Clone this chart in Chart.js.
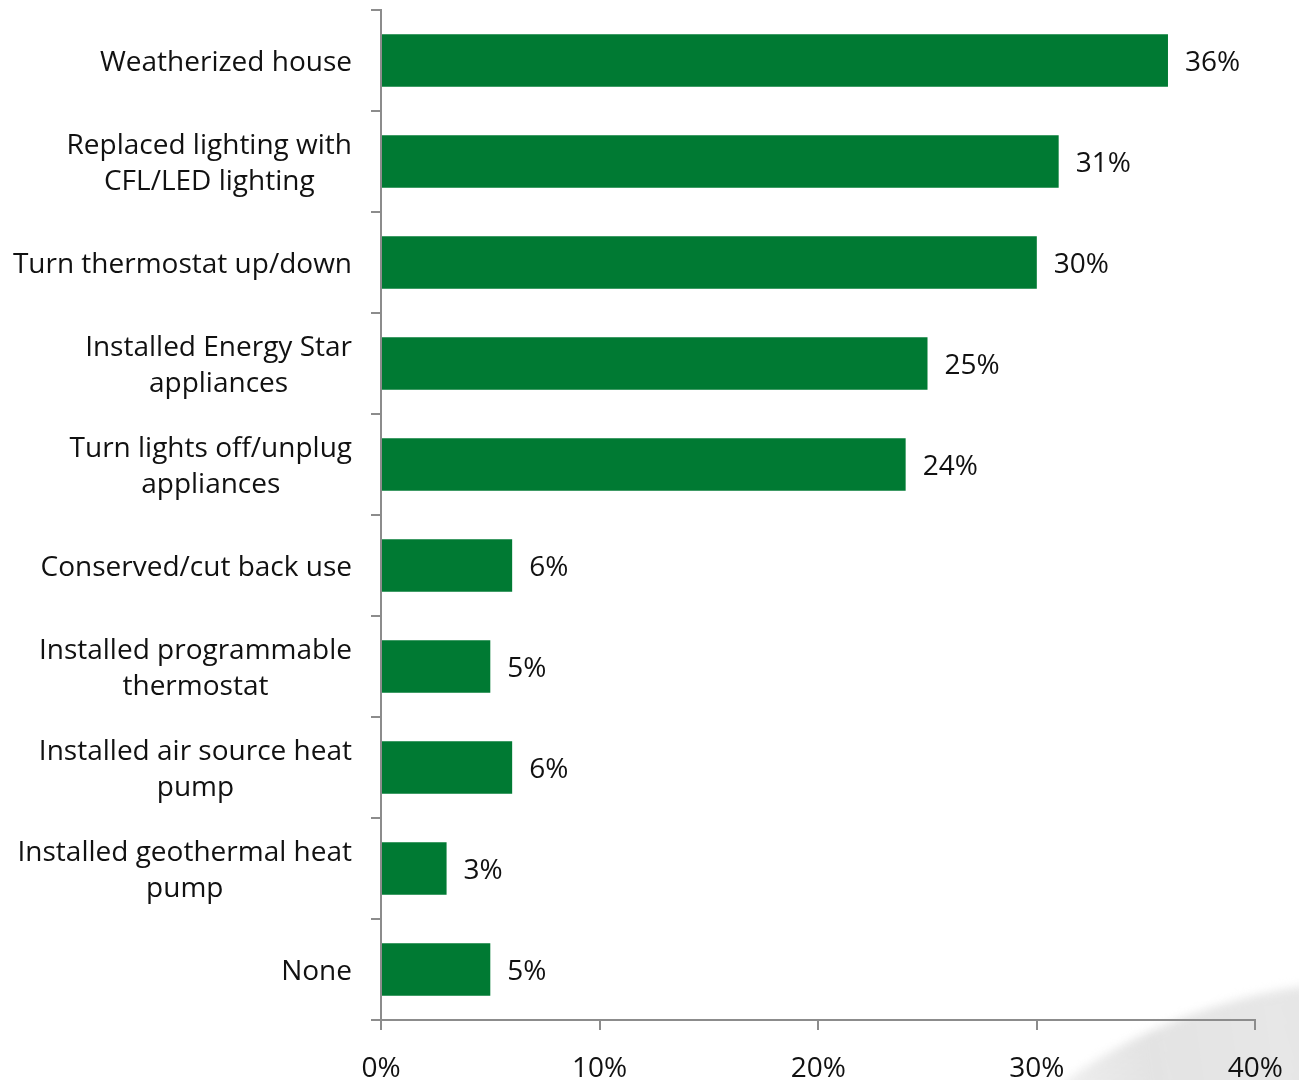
<!DOCTYPE html>
<html lang="en">
<head>
  <meta charset="UTF-8">
  <title>Energy saving actions</title>
  <script src="https://cdn.jsdelivr.net/npm/chart.js"></script>
  <style>
    html, body {
      margin: 0;
      padding: 0;
      background: #ffffff;
      overflow: hidden;
    }
    .wrap {
      position: relative;
      width: 1299px;
      height: 1080px;
      overflow: hidden;
    }
    /* soft grey swoosh from the slide background */
    .swoosh {
      position: absolute;
      left: 960px;
      top: 1000px;
      width: 600px;
      height: 320px;
      border-radius: 50%;
      transform: rotate(-18deg);
      background: linear-gradient(100deg, rgba(226,226,226,0) 0%, rgba(226,226,226,0.95) 35%, rgba(234,234,234,0.9) 100%);
      filter: blur(5px);
    }
    canvas {
      position: absolute;
      left: 0;
      top: 0;
    }
  </style>
</head>
<body>
  <div class="wrap">
    <div class="swoosh"></div>
    <canvas id="actionsChart" width="1305" height="1100"></canvas>
  </div>

  <script>
    // Share of respondents taking each action
    const actions = [
      'Weatherized house',
      ['Replaced lighting with', 'CFL/LED lighting'],
      'Turn thermostat up/down',
      ['Installed Energy Star', 'appliances'],
      ['Turn lights off/unplug', 'appliances'],
      'Conserved/cut back use',
      ['Installed programmable', 'thermostat'],
      ['Installed air source heat', 'pump'],
      ['Installed geothermal heat', 'pump'],
      'None'
    ];
    const percents = [36, 31, 30, 25, 24, 6, 5, 6, 3, 5];
    const xTicks = [0, 10, 20, 30, 40];

    const FONT = "'Open Sans', 'Liberation Sans', sans-serif";
    const TEXT = '#111111';
    const AXIS = '#8c8c8c';
    const LINE_GAP = 36;

    // category names: block sits right of centre, each line centred in the block
    const categoryLabels = {
      id: 'categoryLabels',
      afterDraw(chart) {
        const ctx = chart.ctx;
        const y = chart.scales.y;
        const right = y.right - 29;
        ctx.save();
        ctx.font = '28px ' + FONT;
        ctx.fillStyle = TEXT;
        ctx.textAlign = 'center';
        ctx.textBaseline = 'middle';
        actions.forEach((label, i) => {
          const lines = Array.isArray(label) ? label : [label];
          const w = Math.max(...lines.map(l => ctx.measureText(l).width));
          const cx = right - w / 2;
          const cy = y.getPixelForValue(i);
          const start = cy - (lines.length - 1) * LINE_GAP / 2;
          lines.forEach((l, j) => ctx.fillText(l, cx, start + j * LINE_GAP + 3));
        });
        ctx.restore();
      }
    };

    // writes the percentage just past the end of each bar
    const valueLabels = {
      id: 'valueLabels',
      afterDatasetsDraw(chart) {
        const ctx = chart.ctx;
        const meta = chart.getDatasetMeta(0);
        ctx.save();
        ctx.font = '28px ' + FONT;
        ctx.fillStyle = TEXT;
        ctx.textAlign = 'left';
        ctx.textBaseline = 'middle';
        meta.data.forEach((bar, i) => {
          ctx.fillText(percents[i] + '%', bar.x + 17, bar.y + 3);
        });
        ctx.restore();
      }
    };

    const ctx = document.getElementById('actionsChart').getContext('2d');
    new Chart(ctx, {
      type: 'bar',
      data: {
        labels: actions,
        datasets: [{
          data: percents,
          backgroundColor: '#007a33',
          borderWidth: 0,
          categoryPercentage: 1,
          barPercentage: 0.52
        }]
      },
      options: {
        indexAxis: 'y',
        responsive: false,
        animation: false,
        layout: { padding: { top: 10, right: 38, left: 0, bottom: 0 } },
        plugins: {
          legend: { display: false },
          tooltip: { enabled: false }
        },
        scales: {
          x: {
            min: 0,
            max: 40,
            afterBuildTicks(scale) {
              scale.ticks = xTicks.map(v => ({ value: v }));
            },
            afterFit(scale) { scale.height = 80; },
            grid: {
              drawOnChartArea: false,
              drawTicks: true,
              tickLength: 10,
              color: AXIS,
              lineWidth: 2
            },
            border: { color: AXIS, width: 2 },
            ticks: {
              padding: 22,
              color: TEXT,
              font: { family: FONT, size: 28 },
              callback: v => v + '%'
            }
          },
          y: {
            offset: true,
            afterFit(scale) { scale.width = 381; },
            grid: {
              offset: true,
              drawOnChartArea: false,
              tickLength: 10,
              color: AXIS,
              lineWidth: 2
            },
            border: { color: AXIS, width: 2 },
            ticks: { display: false }
          }
        }
      },
      plugins: [valueLabels, categoryLabels]
    });
  </script>
</body>
</html>
